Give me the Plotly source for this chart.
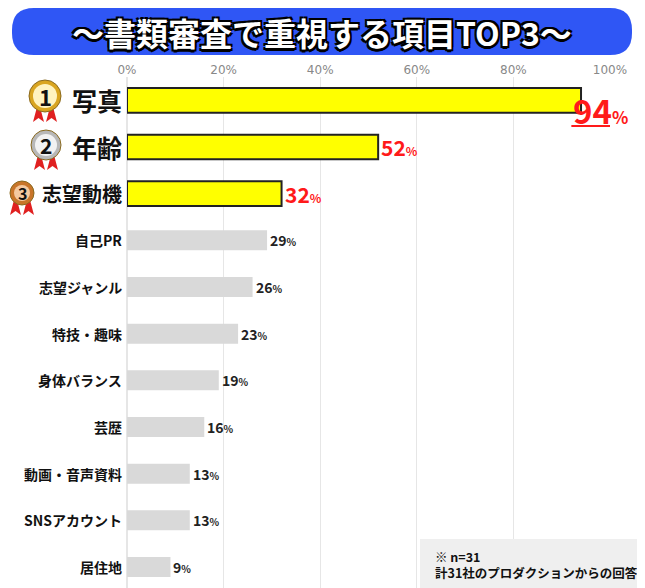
import plotly.graph_objects as go

categories = ['写真', '年齢', '志望動機', '自己PR', '志望ジャンル', '特技・趣味', '身体バランス',
              '芸歴', '動画・音声資料', 'SNSアカウント', '居住地']
values = [94, 52, 32, 29, 26, 23, 19, 16, 13, 13, 9]
tick_vals = [0, 20, 40, 60, 80, 100]
tick_text = ['0%', '20%', '40%', '60%', '80%', '100%']

# page has an 8px body margin, so draw a slightly smaller figure and shift coords
OFF = 8
W, H = 645 - OFF, 588 - OFF
L, R, T, B = 127 - OFF, 35, 77 - OFF, 0
PW, PH = W - L - R, H - T - B


def px(x):
    return (x - OFF - L) / PW


def py(y):
    return 1 - (y - OFF - T) / PH


FONT = 'Noto Sans CJK JP'
ys = list(range(len(categories)))
top3 = ys[:3]
rest = ys[3:]

fig = go.Figure()
fig.add_trace(go.Bar(
    x=[values[i] for i in rest], y=rest, orientation='h', width=0.43,
    marker=dict(color='#d9d9d9', line=dict(width=0)), hoverinfo='skip'))
fig.add_trace(go.Bar(
    x=[values[i] for i in top3], y=top3, orientation='h', width=0.53,
    marker=dict(color='#ffff00', line=dict(color='#222', width=2)), hoverinfo='skip'))

ann = []
# value labels
for i in ys:
    if i == 0:
        txt, size, col = '94<span style="font-size:17px">%</span>', 33, '#ff1a1a'
    elif i < 3:
        txt, size, col = f'{values[i]}<span style="font-size:12px">%</span>', 21, '#ff1a1a'
    else:
        txt, size, col = f'{values[i]}<span style="font-size:10px">%</span>', 14, '#222'
    ann.append(dict(x=values[i], y=i + (0.2 if i == 0 else 0), xref='x', yref='y', text=f'<b>{txt}</b>',
                    showarrow=False, xanchor='left', yanchor='middle', xshift=-10 if i == 0 else 1,
                    font=dict(family=FONT, size=size, color=col)))
# category labels
for i in ys:
    size = 25 if i < 2 else (20 if i == 2 else 14)
    ann.append(dict(x=0, y=i, xref='paper', yref='y', text=f'<b>{categories[i]}</b>', showarrow=False,
                    xanchor='right', yanchor='middle', xshift=-3, font=dict(family=FONT, size=size, color='#111')))

shapes = []
# underline under 94%
shapes.append(dict(type='line', xref='x', yref='paper', x0=92, x1=106.5, y0=py(126), y1=py(126),
                   line=dict(color='#ff1a1a', width=2)))
# medals
medals = [('#d9a520', 45, 96, 16), ('#b8b8b8', 46, 145, 15), ('#c8752a', 22, 193, 12)]
for n, (c, cx, cy, r) in enumerate(medals):
    for dx in (-8, 5):
        shapes.append(dict(type='path', xref='paper', yref='paper', layer='above',
                           path=f'M {px(cx+dx)} {py(cy+r-5)} L {px(cx+dx-4)} {py(cy+r+10)} '
                                f'L {px(cx+dx+1.5)} {py(cy+r+6)} L {px(cx+dx+7)} {py(cy+r+10)} '
                                f'L {px(cx+dx+3)} {py(cy+r-5)} Z',
                           fillcolor='#e02020', line=dict(width=0)))
    shapes.append(dict(type='circle', xref='paper', yref='paper', layer='above',
                       x0=px(cx - r), x1=px(cx + r), y0=py(cy + r), y1=py(cy - r),
                       fillcolor=c, line=dict(color='#8a6a20', width=1)))
    shapes.append(dict(type='circle', xref='paper', yref='paper', layer='above',
                       x0=px(cx - r + 4), x1=px(cx + r - 4), y0=py(cy + r - 4), y1=py(cy - r + 4),
                       fillcolor='#fff3c0' if n == 0 else ('#f2f2f2' if n == 1 else '#f4c9a0'),
                       line=dict(width=0)))
    ann.append(dict(x=px(cx), y=py(cy), xref='paper', yref='paper', text=f'<b>{n+1}</b>', showarrow=False,
                    xanchor='center', yanchor='middle',
                    font=dict(family=FONT, size=int(r * 1.4), color='#111')))

# title box
x0, x1, y0, y1, rr = 12, 632, 8, 55, 22
shapes.append(dict(type='path', xref='paper', yref='paper', fillcolor='#2f56f5', line=dict(width=0),
                   path=f'M {px(x0+rr)} {py(y0)} L {px(x1-rr)} {py(y0)} Q {px(x1)} {py(y0)} {px(x1)} {py(y0+rr)} '
                        f'L {px(x1)} {py(y1-rr)} Q {px(x1)} {py(y1)} {px(x1-rr)} {py(y1)} '
                        f'L {px(x0+rr)} {py(y1)} Q {px(x0)} {py(y1)} {px(x0)} {py(y1-rr)} '
                        f'L {px(x0)} {py(y0+rr)} Q {px(x0)} {py(y0)} {px(x0+rr)} {py(y0)} Z'))
ann.append(dict(x=px(322), y=py(32), xref='paper', yref='paper', text='<b>～書類審査で重視する項目TOP3～</b>',
                showarrow=False, xanchor='center', yanchor='middle',
                font=dict(family=FONT, size=32, color='white',
                          shadow='2px 2px 0 #000, -2px -2px 0 #000, 2px -2px 0 #000, -2px 2px 0 #000, 0 3px 0 #000')))
# note box
shapes.append(dict(type='rect', xref='paper', yref='paper', layer='above', x0=px(420), x1=px(650),
                   y0=py(595), y1=py(539), fillcolor='#efefef', line=dict(width=0)))
ann.append(dict(x=px(433), y=py(564), xref='paper', yref='paper', xanchor='left', yanchor='middle', align='left',
                text='<b>※ n=31<br>計31社のプロダクションからの回答</b>', showarrow=False,
                font=dict(family=FONT, size=12.5, color='#111')))

fig.update_layout(
    width=W, height=H, margin=dict(l=L, r=R, t=T, b=B), plot_bgcolor='white', paper_bgcolor='white',
    showlegend=False, barmode='overlay', annotations=ann, shapes=shapes,
    xaxis=dict(range=[0, 100], side='top', tickvals=tick_vals, ticktext=tick_text, showgrid=True,
               gridcolor='#e6e6e6', zeroline=True, zerolinecolor='#e6e6e6', ticklen=0,
               tickfont=dict(family='DejaVu Sans', size=12, color='#888')),
    yaxis=dict(range=[10.45, -0.5], showticklabels=False, showgrid=False, zeroline=False),
)
fig.write_html('out.html')
